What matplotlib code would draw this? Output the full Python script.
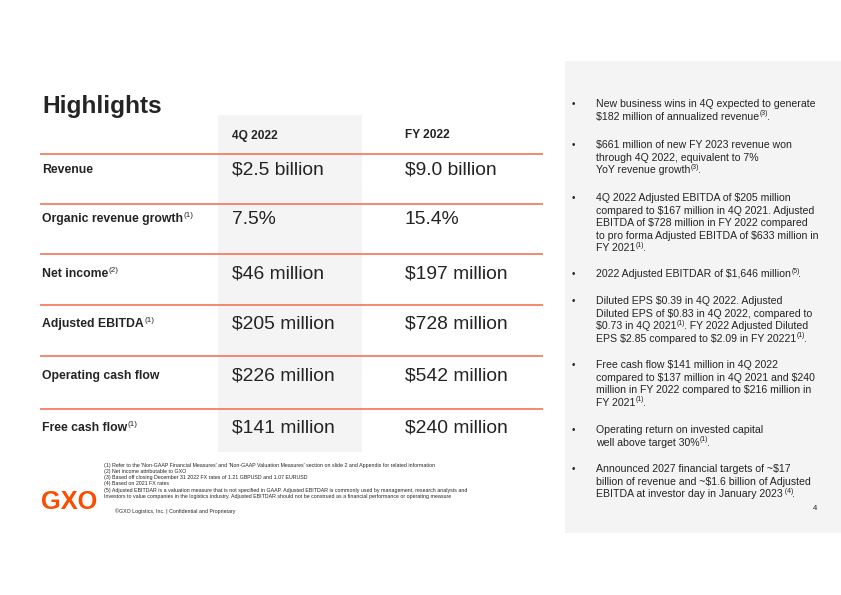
import re
import matplotlib
matplotlib.use("Agg")
import matplotlib.pyplot as plt
from matplotlib.patches import Rectangle

plt.rcParams['font.family'] = ['Liberation Sans', 'DejaVu Sans']

# ---------------- data ----------------
title = "Highlights"
col_headers = ["4Q 2022", "FY 2022"]
row_labels = ["Revenue", "Organic revenue growth^{(1)}", "Net income^{(2)}",
              "Adjusted EBITDA^{(1)}", "Operating cash flow", "Free cash flow^{(1)}"]
q4_values = ["$2.5 billion", "7.5%", "$46 million", "$205 million", "$226 million", "$141 million"]
fy_values = ["$9.0 billion", "15.4%", "$197 million", "$728 million", "$542 million", "$240 million"]

bullets = [
    ["New business wins in 4Q expected to generate",
     "$182 million of annualized revenue^{(3)}."],
    ["$661 million of new FY 2023 revenue won",
     "through 4Q 2022, equivalent to 7%",
     "YoY revenue growth^{(3)}."],
    ["4Q 2022 Adjusted EBITDA of $205 million",
     "compared to $167 million in 4Q 2021. Adjusted",
     "EBITDA of $728 million in FY 2022 compared",
     "to pro forma Adjusted EBITDA of $633 million in",
     "FY 2021^{(1)}."],
    ["2022 Adjusted EBITDAR of $1,646 million^{(5)}."],
    ["Diluted EPS $0.39 in 4Q 2022. Adjusted",
     "Diluted EPS of $0.83 in 4Q 2022, compared to",
     "$0.73 in 4Q 2021^{(1)}. FY 2022 Adjusted Diluted",
     "EPS $2.85 compared to $2.09 in FY 20221^{(1)}."],
    ["Free cash flow $141 million in 4Q 2022",
     "compared to $137 million in 4Q 2021 and $240",
     "million in FY 2022 compared to $216 million in",
     "FY 2021^{(1)}."],
    ["Operating return on invested capital",
     "well above target 30%^{(1)}."],
    ["Announced 2027 financial targets of ~$17",
     "billion of revenue and ~$1.6 billion of Adjusted",
     "EBITDA at investor day in January 2023^{ (4)}."],
]
bullet_tops = [103, 144, 197, 273, 300, 364, 429, 468]

footnotes = [
    "(1) Refer to the 'Non-GAAP Financial Measures' and 'Non-GAAP Valuation Measures' section on slide 2 and Appendix for related information",
    "(2) Net income attributable to GXO",
    "(3) Based off closing December 31 2022 FX rates of 1.21 GBPUSD and 1.07 EURUSD",
    "(4) Based on 2021 FX rates",
    "(5) Adjusted EBITDAR is a valuation measure that is not specified in GAAP. Adjusted EBITDAR is commonly used by management, research analysts and",
    "Investors to value companies in the logistics industry. Adjusted EBITDAR should not be construed as a financial performance or operating measure",
]
copyright_text = "\u00a9GXO Logistics, Inc. | Confidential and Proprietary"
page_number = "4"
logo = "GXO"

# ---------------- drawing ----------------
W, H = 841, 595
fig = plt.figure(figsize=(W / 100, H / 100), dpi=100)
ax = fig.add_axes([0, 0, 1, 1])
ax.set_xlim(0, W)
ax.set_ylim(H, 0)
ax.axis('off')
renderer = fig.canvas.get_renderer()
inv = ax.transData.inverted()

dark = '#242424'
orange = '#f26a47'
panel = '#f4f4f4'


def rich_text(x, y, s, size, weight='normal', color=dark):
    """Draw text at baseline y, with ^{...} parts as superscripts."""
    parts = re.split(r'(\^\{[^}]*\})', s)
    cur_x = x
    for p in parts:
        if not p:
            continue
        if p.startswith('^{'):
            t = ax.text(cur_x + 0.3, y - size * 0.42 * 100 / 72, p[2:-1], fontsize=size * 0.66,
                        fontweight='normal', color=color, va='baseline', ha='left',
                        parse_math=False)
            bb = t.get_window_extent(renderer)
            cur_x = inv.transform((bb.x1, bb.y0))[0] - 1.0
        else:
            t = ax.text(cur_x, y, p, fontsize=size, fontweight=weight, color=color,
                        va='baseline', ha='left', parse_math=False)
            bb = t.get_window_extent(renderer)
            cur_x = inv.transform((bb.x1, bb.y0))[0]


# right panel
ax.add_patch(Rectangle((565, 61), W - 565, 472, facecolor=panel, edgecolor='none', zorder=0))
# highlighted column band
ax.add_patch(Rectangle((218, 115), 144, 337, facecolor=panel, edgecolor='none', zorder=0))

ax.text(42, 113, title, fontsize=17.6, fontweight='bold', color=dark, va='baseline', ha='left')

# headers
for x, h in zip([232, 405], col_headers):
    ax.text(x, 138.5, h, fontsize=8.6, fontweight='bold', color=dark, va='baseline', ha='left')

line_ys = [153.5, 203.5, 254, 304.5, 356, 408.5]
row_ys = [169, 218, 273, 323, 375, 427]
for ly in line_ys:
    ax.plot([40, 543], [ly, ly], color=orange, lw=1.1, solid_capstyle='butt', zorder=2)

for y, lab, v1, v2 in zip(row_ys, row_labels, q4_values, fy_values):
    rich_text(42, y + 3.8, lab, 8.8, weight='bold')
    ax.text(232, y + 6, v1, fontsize=13.9, color=dark, va='baseline', ha='left', parse_math=False)
    ax.text(405, y + 6, v2, fontsize=13.9, color=dark, va='baseline', ha='left', parse_math=False)

# bullets
lh = 12.5
for top, lines in zip(bullet_tops, bullets):
    ax.text(572, top + 0.8, "\u2022", fontsize=7, color=dark, va='center', ha='left')
    for i, ln in enumerate(lines):
        rich_text(596, top + i * lh + 4.3, ln, 7.55)

# footnotes
for i, fn in enumerate(footnotes):
    ax.text(104, 465 + i * 6.3, fn, fontsize=3.8, color=dark, va='center', ha='left',
            parse_math=False)
ax.text(115, 511, copyright_text, fontsize=3.8, color=dark, va='center', ha='left')

ax.text(41, 509, logo, fontsize=18.3, fontweight='heavy', color='#fc4c02', va='baseline', ha='left')
ax.text(815, 508, page_number, fontsize=5.5, color=dark, va='center', ha='center')

fig.savefig('out.png', dpi=100, facecolor='white')
